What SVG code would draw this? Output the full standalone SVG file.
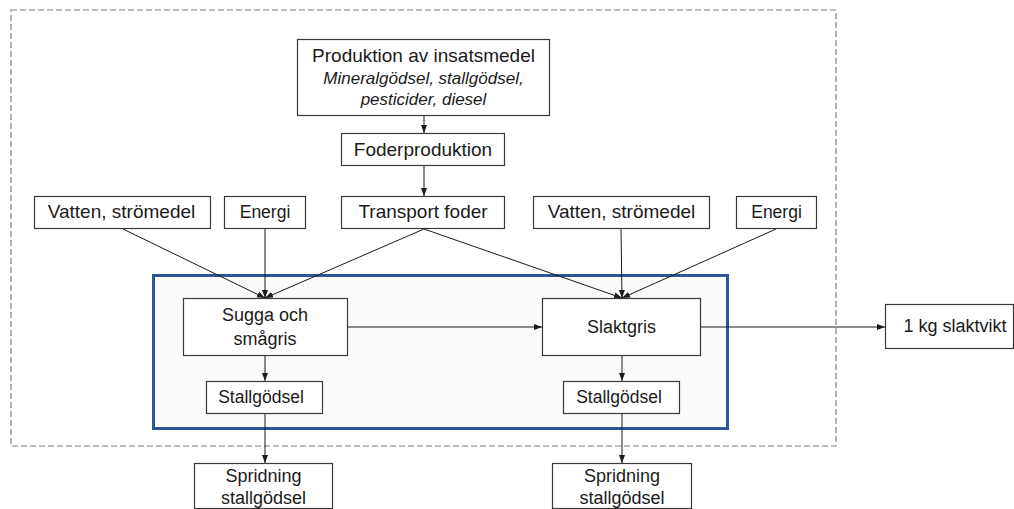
<svg xmlns="http://www.w3.org/2000/svg" width="1014" height="509" viewBox="0 0 1014 509">
<style>
.box{fill:#fff;stroke:#3a3a3a;stroke-width:1.2}
.t{font-family:"Liberation Sans",Arial,sans-serif;font-size:18px;fill:#1a1a1a;text-anchor:middle}
.b{font-size:19px}
.s{font-size:17.5px}
.i{font-style:italic;font-size:17px}
.ca{stroke:#1a1a1a;stroke-width:1;fill:none;marker-end:url(#ah)}
</style>
<defs>
<marker id="ah" viewBox="0 0 8 8" refX="8" refY="4" markerWidth="8" markerHeight="8" markerUnits="userSpaceOnUse" orient="auto">
<path d="M0,1 L8,4 L0,7 Z" fill="#1a1a1a"/>
</marker>
</defs>
<rect width="1014" height="509" fill="#fff"/>
<rect id="system-boundary" x="11" y="10" width="825" height="436" fill="none" stroke="#808080" stroke-width="1.2" stroke-dasharray="6,3"/>
<rect id="farm" x="153.5" y="275.5" width="574" height="153" fill="#fafafa" stroke="#2f5597" stroke-width="3"/>
<g id="connectors">
<line class="ca" x1="424" y1="116" x2="424" y2="133"/>
<line class="ca" x1="424" y1="166" x2="424" y2="196"/>
<line class="ca" x1="424" y1="229" x2="265" y2="298"/>
<line class="ca" x1="424" y1="229" x2="622" y2="298"/>
<line class="ca" x1="123" y1="229" x2="265" y2="298"/>
<line class="ca" x1="265" y1="229" x2="265" y2="298"/>
<line class="ca" x1="621" y1="229" x2="622" y2="298"/>
<line class="ca" x1="776" y1="229" x2="622" y2="298"/>
<line class="ca" x1="348" y1="327" x2="542" y2="327"/>
<line class="ca" x1="701" y1="327" x2="885" y2="327"/>
<line class="ca" x1="265" y1="356" x2="265" y2="381"/>
<line class="ca" x1="265" y1="414" x2="265" y2="463"/>
<line class="ca" x1="622" y1="356" x2="622" y2="381"/>
<line class="ca" x1="622" y1="414" x2="622" y2="463"/>
</g>
<g id="produktion">
<rect class="box" x="297.5" y="39.5" width="252" height="76"/>
<text class="t b" x="423.5" y="62">Produktion av insatsmedel</text>
<text class="t i" x="423.5" y="84">Mineralgödsel, stallgödsel,</text>
<text class="t i" x="423.5" y="105">pesticider, diesel</text>
</g>
<g id="foderproduktion">
<rect class="box" x="341.5" y="133.5" width="163" height="32"/>
<text class="t b" x="423" y="156">Foderproduktion</text>
</g>
<g id="transport-foder">
<rect class="box" x="341.5" y="196.5" width="163" height="32"/>
<text class="t b" x="423" y="218">Transport foder</text>
</g>
<g id="vatten-1">
<rect class="box" x="34.5" y="196.5" width="176" height="32"/>
<text class="t b" x="121.5" y="218">Vatten, strömedel</text>
</g>
<g id="energi-1">
<rect class="box" x="224.5" y="196.5" width="81" height="32"/>
<text class="t s" x="265" y="218">Energi</text>
</g>
<g id="vatten-2">
<rect class="box" x="533.5" y="196.5" width="176" height="32"/>
<text class="t b" x="621.5" y="218">Vatten, strömedel</text>
</g>
<g id="energi-2">
<rect class="box" x="736.5" y="196.5" width="80" height="32"/>
<text class="t s" x="776.5" y="218">Energi</text>
</g>
<g id="sugga">
<rect class="box" x="183.5" y="298.5" width="164" height="57"/>
<text class="t" x="265" y="321">Sugga och</text>
<text class="t" x="265" y="345">smågris</text>
</g>
<g id="slaktgris">
<rect class="box" x="542.5" y="298.5" width="158" height="57"/>
<text class="t" x="621.5" y="333">Slaktgris</text>
</g>
<g id="stallgodsel-1">
<rect class="box" x="206.5" y="381.5" width="116" height="32"/>
<text class="t s" x="261" y="403">Stallgödsel</text>
</g>
<g id="stallgodsel-2">
<rect class="box" x="563.5" y="381.5" width="116" height="32"/>
<text class="t s" x="619" y="403">Stallgödsel</text>
</g>
<g id="spridning-1">
<rect class="box" x="194.5" y="463.5" width="138" height="45"/>
<text class="t" x="263.5" y="482">Spridning</text>
<text class="t" x="263.5" y="504">stallgödsel</text>
</g>
<g id="spridning-2">
<rect class="box" x="552.5" y="463.5" width="139" height="45"/>
<text class="t" x="622" y="482">Spridning</text>
<text class="t" x="622" y="504">stallgödsel</text>
</g>
<g id="slaktvikt">
<rect class="box" x="885.5" y="304.5" width="128" height="44"/>
<text class="t" x="955" y="332">1 kg slaktvikt</text>
</g>
</svg>
